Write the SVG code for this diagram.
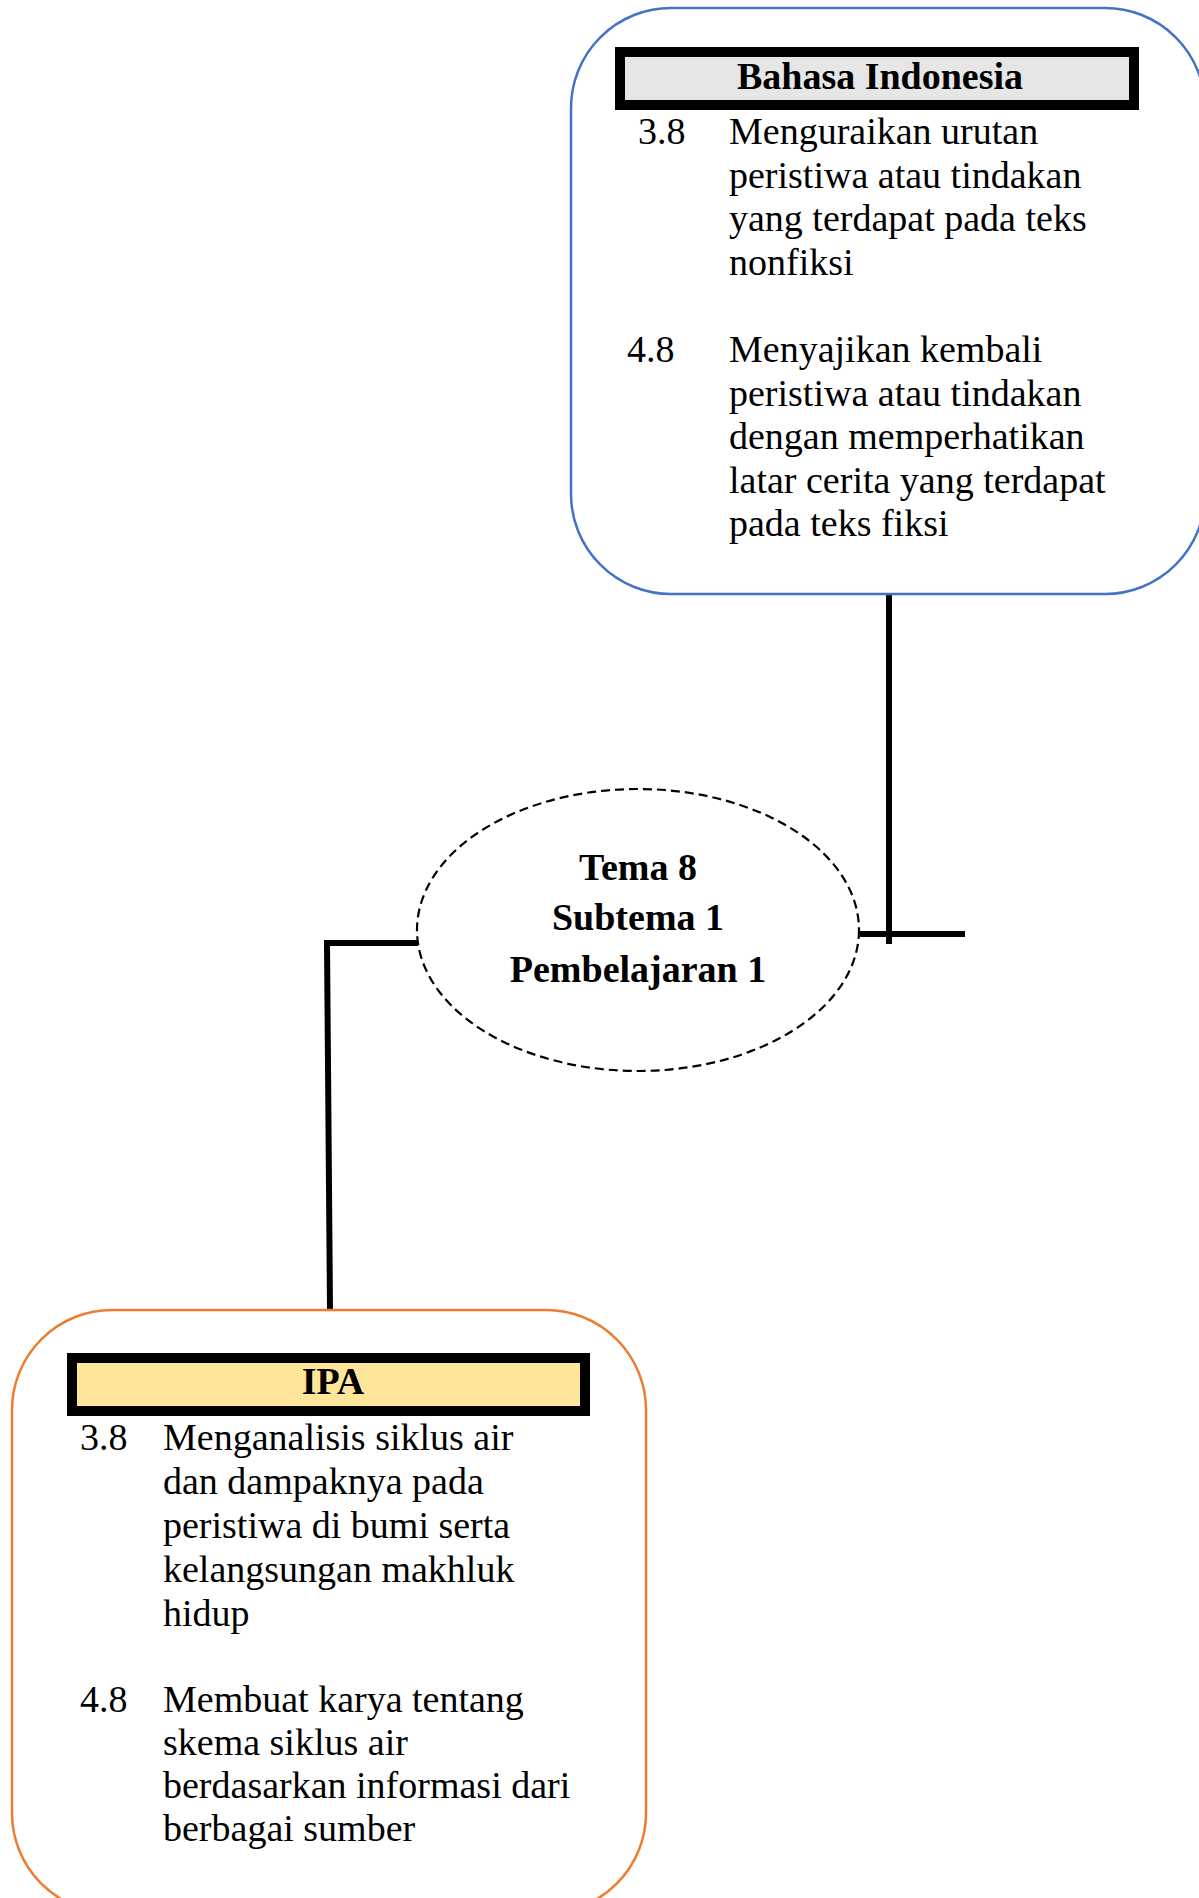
<svg xmlns="http://www.w3.org/2000/svg" width="1199" height="1898" viewBox="0 0 1199 1898">
<style>
.body{font-family:"Liberation Serif","Times New Roman",serif;font-size:38px;fill:#000}
.bold{font-family:"Liberation Serif","Times New Roman",serif;font-size:38px;font-weight:bold;fill:#000}
.conn{stroke:#000;stroke-width:6;fill:none}
.hdr{stroke:#000;stroke-width:10}
</style>
<rect width="1199" height="1898" fill="#fff"/>
<g id="connectors">
<line class="conn" x1="889" y1="594" x2="889" y2="944"/>
<line class="conn" x1="860" y1="934" x2="965" y2="934"/>
<polyline class="conn" points="418,943 327,943 330,1310"/>
</g>
<g id="node-bahasa">
<rect x="571" y="8" width="634" height="586" rx="100" ry="100" fill="none" stroke="#4472c4" stroke-width="2.5"/>
<rect class="hdr" x="620" y="52" width="514" height="53" fill="#e6e6e6"/>
<text class="bold" x="880" y="89" text-anchor="middle">Bahasa Indonesia</text>
<text class="body" x="638" y="144">3.8</text>
<text class="body" x="729" y="144">Menguraikan urutan</text>
<text class="body" x="729" y="187.6">peristiwa atau tindakan</text>
<text class="body" x="729" y="231.2">yang terdapat pada teks</text>
<text class="body" x="729" y="274.8">nonfiksi</text>
<text class="body" x="627" y="362">4.8</text>
<text class="body" x="729" y="362">Menyajikan kembali</text>
<text class="body" x="729" y="405.6">peristiwa atau tindakan</text>
<text class="body" x="729" y="449.2">dengan memperhatikan</text>
<text class="body" x="729" y="492.8">latar cerita yang terdapat</text>
<text class="body" x="729" y="536.4">pada teks fiksi</text>
</g>
<g id="node-tema">
<ellipse cx="638" cy="930" rx="221" ry="141" fill="#fff" stroke="#000" stroke-width="2.2" stroke-dasharray="9,5"/>
<text class="bold" x="638" y="880" text-anchor="middle">Tema 8</text>
<text class="bold" x="638" y="930" text-anchor="middle">Subtema 1</text>
<text class="bold" x="638" y="982" text-anchor="middle">Pembelajaran 1</text>
</g>
<g id="node-ipa">
<rect x="12" y="1310" width="634" height="603" rx="100" ry="100" fill="none" stroke="#ed7d31" stroke-width="2.5"/>
<rect class="hdr" x="72" y="1358" width="513" height="53" fill="#ffe599"/>
<text class="bold" x="333" y="1394" text-anchor="middle">IPA</text>
<text class="body" x="80" y="1449.5">3.8</text>
<text class="body" x="163" y="1449.5">Menganalisis siklus air</text>
<text class="body" x="163" y="1493.5">dan dampaknya pada</text>
<text class="body" x="163" y="1537.5">peristiwa di bumi serta</text>
<text class="body" x="163" y="1581.5">kelangsungan makhluk</text>
<text class="body" x="163" y="1625.5">hidup</text>
<text class="body" x="80" y="1712">4.8</text>
<text class="body" x="163" y="1712">Membuat karya tentang</text>
<text class="body" x="163" y="1755">skema siklus air</text>
<text class="body" x="163" y="1798">berdasarkan informasi dari</text>
<text class="body" x="163" y="1841">berbagai sumber</text>
</g>
</svg>
